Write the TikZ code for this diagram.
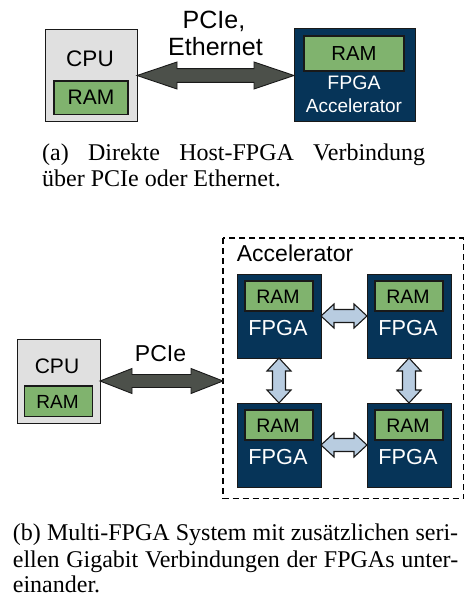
\documentclass[tikz,border=0pt]{standalone}
\usepackage{fontspec}
\setmainfont{Liberation Serif}
\newfontfamily\diagfont{Liberation Sans}
\usetikzlibrary{calc}

\definecolor{cpugray}{RGB}{224,224,224}
\definecolor{ramgreen}{RGB}{128,179,110}
\definecolor{fpgablue}{RGB}{6,52,88}
\definecolor{linkgray}{RGB}{76,80,74}
\definecolor{linkblue}{RGB}{184,204,224}
\definecolor{edgedark}{RGB}{25,25,25}

% double-headed block arrow between two points:
% #1 style, #2 start, #3 end, #4 head length, #5 head half-width, #6 shaft half-width
\newcommand\duplexarrow[6]{%
  \coordinate (dA) at (#2);
  \coordinate (dB) at (#3);
  \coordinate (dA1) at ($(dA)!#4!(dB)$);
  \coordinate (dB1) at ($(dB)!#4!(dA)$);
  \draw[#1] (dA) -- ($(dA1)!#5!90:(dB)$) -- ($(dA1)!#6!90:(dB)$)
    -- ($(dB1)!#6!-90:(dA)$) -- ($(dB1)!#5!-90:(dA)$) -- (dB)
    -- ($(dB1)!#5!90:(dA)$) -- ($(dB1)!#6!90:(dA)$)
    -- ($(dA1)!#6!-90:(dB)$) -- ($(dA1)!#5!-90:(dB)$) -- cycle;}

\newcommand\sz[1]{\diagfont\fontsize{#1}{#1}\selectfont}

\tikzset{
  cpubox/.style={draw=edgedark, line width=1pt, fill=cpugray},
  rambox/.style={draw=edgedark, line width=1.2pt, fill=ramgreen},
  fpgabox/.style={draw=edgedark, line width=1pt, fill=fpgablue},
  lbl/.style={font=\sz{21.5}, inner sep=0pt, anchor=base},
  lblw/.style={lbl, text=white},
  hostlink/.style={draw=edgedark, line width=0.9pt, fill=linkgray, line join=miter},
  fpgalink/.style={draw=edgedark, line width=1.1pt, fill=linkblue, line join=miter},
  capline/.style={font=\fontsize{24}{29}\selectfont, inner sep=0pt, anchor=base west},
  groupbox/.style={draw=black, line width=1.6pt, dash pattern=on 6pt off 4pt}
}

\begin{document}
\begin{tikzpicture}[x=1pt, y=-1pt]
\useasboundingbox (0,0) rectangle (465,594);

% ---------- (a) direct host link ----------
\draw[cpubox] (45,30) rectangle (137,121);
\coordinate (cpuA-e) at (137,75.5);
\node[lbl, font=\sz{22.5}] (cpuA-t) at (90,66.7) {CPU};
\draw[rambox] (54,81) rectangle (128,114.5);
\node[lbl, font=\sz{21}] (cpuA-r) at (91,104.3) {RAM};

\draw[fpgabox] (294,29) rectangle (415,121);
\coordinate (accA-w) at (294,75.5);
\draw[rambox] (304,36) rectangle (404,71);
\node[lbl, font=\sz{20.3}] (accA-r) at (354,61) {RAM};
\node[lblw, font=\sz{19.5}] (accA-f) at (354,89.3) {FPGA};
\node[lblw, font=\sz{19}] (accA-a) at (354,112.3) {Accelerator};

\duplexarrow{hostlink}{cpuA-e}{accA-w}{40pt}{13.5pt}{6.8pt}
\node[lbl, font=\sz{25}] (linkA1) at (214,28.3) {PCIe,};
\node[lbl, font=\sz{25}] (linkA2) at (215.5,55.7) {Ethernet};

\node[capline] (capA1) at (42,160) {\makebox[383pt][s]{(a) Direkte Host-FPGA Verbindung}};
\node[capline] (capA2) at (42,186.5) {über PCIe oder Ethernet.};

% ---------- (b) multi-FPGA system ----------
\draw[cpubox] (17,339) rectangle (100,423);
\coordinate (cpuB-e) at (100,381);
\node[lbl, font=\sz{21}] (cpuB-t) at (57,373) {CPU};
\draw[rambox] (24.3,386) rectangle (92.3,416.7);
\node[lbl, font=\sz{19}] (cpuB-r) at (57.5,408.3) {RAM};

\draw[groupbox] (223,238) rectangle (463.5,498.5);
\coordinate (grp-w) at (223,381);
\node[lbl, font=\sz{23}, anchor=base west] (grp-t) at (236.7,261.7) {Accelerator};

\foreach \nm/\x/\y in {tl/237/274, tr/367/274, bl/237/403, br/367/403}{
  \draw[fpgabox] (\x,\y) rectangle ++(84,84);
  \draw[rambox] (\x+8,\y+7) rectangle (\x+76,\y+37);
  \node[lbl, font=\sz{19.5}] (\nm-r) at (\x+41,\y+29.3) {RAM};
  \node[lblw, font=\sz{21.7}] (\nm-f) at (\x+41,\y+61) {FPGA};
  \coordinate (\nm-n) at (\x+42,\y);
  \coordinate (\nm-s) at (\x+42,\y+84);
  \coordinate (\nm-e) at (\x+84,\y+42);
  \coordinate (\nm-w) at (\x,\y+42);
}

\duplexarrow{hostlink}{cpuB-e}{grp-w}{32pt}{12.5pt}{6.5pt}
\node[lbl, font=\sz{23}] (linkB) at (160.5,361.7) {PCIe};

\duplexarrow{fpgalink}{tl-e}{tr-w}{13pt}{12pt}{6.5pt}
\duplexarrow{fpgalink}{bl-e}{br-w}{13pt}{12pt}{6.5pt}
\duplexarrow{fpgalink}{tl-s}{bl-n}{13pt}{12pt}{6.5pt}
\duplexarrow{fpgalink}{tr-s}{br-n}{13pt}{12pt}{6.5pt}

\node[capline] (capB1) at (12.7,540) {\makebox[445.3pt][s]{(b) Multi-FPGA System mit zusätzlichen seri-}};
\node[capline] (capB2) at (12.7,567) {\makebox[445.3pt][s]{ellen Gigabit Verbindungen der FPGAs unter-}};
\node[capline] (capB3) at (12.7,592.5) {einander.};
\end{tikzpicture}
\end{document}
